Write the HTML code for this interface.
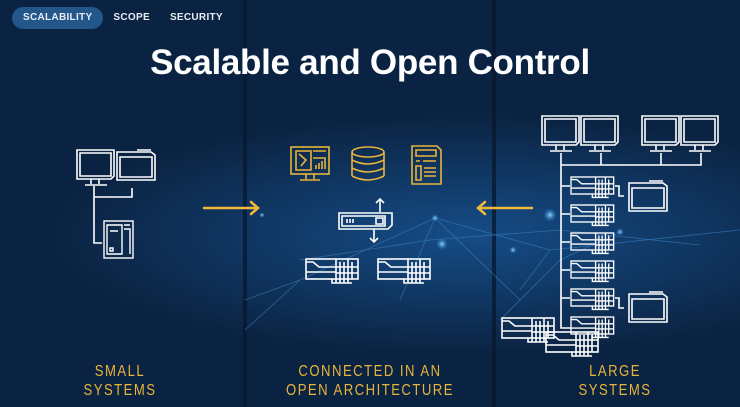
<!DOCTYPE html>
<html><head><meta charset="utf-8"><style>
html,body{margin:0;padding:0}
body{width:740px;height:407px;overflow:hidden;position:relative;font-family:"Liberation Sans",sans-serif;
background:radial-gradient(ellipse 420px 120px at 470px 235px,rgba(30,110,190,.55),rgba(11,35,66,0) 100%),#0b2342;}
.div{position:absolute;top:0;width:4px;height:407px;background:#08192f;opacity:.8}
.tabs{position:absolute;top:7px;left:12px;height:22px;display:flex;align-items:center;font-size:10px;font-weight:bold;color:#e6edf5;letter-spacing:.3px}
.tab{padding:0 10px;height:22px;line-height:22px}
.tab.on{background:#23578a;border-radius:11px;padding:0 11px}
h1{position:absolute;top:43px;left:0;width:740px;margin:0;text-align:center;color:#fff;font-size:35px;font-weight:bold;letter-spacing:-0.3px}
.lab{position:absolute;top:363px;text-align:center;color:#e8b43a;font-size:16px;line-height:18.5px;letter-spacing:1.8px;transform:scaleX(0.82)}
svg{position:absolute;left:0;top:0}
</style></head><body>
<div class="div" style="left:243px"></div>
<div class="div" style="left:492px"></div>
<svg width="740" height="407" viewBox="0 0 740 407">
<defs>
<g id="rack" fill="none" stroke="#fff" stroke-width="1.6">
<rect x="0" y="0" width="52" height="20"/>
<path d="M0 3 L7 3 L13 8 L30 8 M0 13 L30 13 M30 0 V24 M34 3 V24 M38 3 V24 M42 0 V24 M46 3 V20 M30 8 H52 M30 14 H52 M26 20 V24 H46"/>
</g>
<g id="mon" fill="none" stroke="#fff" stroke-width="1.6">
<path d="M0 0 H37 V26 L34 29 H0 Z M3 3 H34 V26 H3 Z M14 29 V34 M22 29 V34 M8 35 H30"/>
</g>
<g id="win" fill="none" stroke="#fff" stroke-width="1.6">
<path d="M0 2 H34 L38 5 V30 H0 Z M3 7 H35 V27 H3 Z M20 0 H34"/>
</g>
<radialGradient id="dot"><stop offset="0" stop-color="#8fd4ff"/><stop offset="1" stop-color="#1e6ec0" stop-opacity="0"/></radialGradient>
</defs>
<g stroke="#3d86c9" stroke-width="0.8" opacity="0.6" fill="none">
<path d="M245 300 L300 280 L435 218 L550 250 L740 230"/>
<path d="M435 218 L400 300 M435 218 L520 300 M300 280 L245 330 M550 250 L520 290 M620 232 L560 260 L500 320"/>
<path d="M300 260 L430 240 L560 230 L700 245"/>
</g>
<circle cx="435" cy="218" r="4" fill="url(#dot)"/>
<circle cx="550" cy="215" r="7" fill="url(#dot)"/>
<circle cx="620" cy="232" r="4" fill="url(#dot)"/>
<circle cx="513" cy="250" r="4" fill="url(#dot)"/>
<circle cx="442" cy="244" r="6" fill="url(#dot)"/>
<circle cx="262" cy="215" r="3" fill="url(#dot)"/>
<use href="#mon" x="77" y="150"/>
<use href="#win" x="117" y="150"/>
<path d="M94 186 V243 H102 M94 197 H132 V188" fill="none" stroke="#fff" stroke-width="1.6"/>
<g fill="none" stroke="#fff" stroke-width="1.4">
<rect x="104" y="221" width="29" height="37"/><path d="M107 225 H122 V254 H107 Z M124 225 H130 M124 229 H130 V254 M110 231 H118 M110 248 H113 V251 H110 Z"/>
</g>
<g stroke="#f0b83a" stroke-width="2.5" fill="none" stroke-linecap="round">
<path d="M204 208 H258 M251 202 L258 208 L251 214"/>
<path d="M532 208 H478 M485 202 L478 208 L485 214"/>
</g>
<g fill="none" stroke="#e8b43a" stroke-width="1.6">
<rect x="291" y="147" width="38" height="27"/><path d="M296 151 H311 V170 H296 Z M313 151 H326 M313 158 H326 M316 169 V165 M319 169 V163 M322 169 V161 M325 169 V159 M306 174 V179 M314 174 V179 M300 180 H320 M299 154 L306 160 L301 166"/>
<ellipse cx="368" cy="152" rx="16" ry="5"/><path d="M352 152 V176 M384 152 V176 M352 160 Q368 168 384 160 M352 168 Q368 176 384 168 M352 176 Q368 184 384 176"/>
<path d="M412 146 H437 L441 150 V184 H412 Z M416 150 H436 V156 H416 Z M416 161 H420 M423 161 H436 M416 166 H421 V180 H416 Z M424 168 H436 M424 172 H436 M424 176 H436"/>
</g>
<g fill="none" stroke="#fff" stroke-width="1.6">
<path d="M339 213 H392 V225 L388 229 H339 Z M342 216 H385 V226 H342 Z M347 219 V223 M350 219 V223 M353 219 V223 M376 218 H383 V224 H376 Z"/>
<path d="M380 212 V199 M376 203 L380 199 L384 203 M374 229 V242 M370 238 L374 242 L378 238"/>
</g>
<use href="#rack" x="306" y="259"/>
<use href="#rack" x="378" y="259"/>
<use href="#mon" x="542" y="116"/>
<use href="#mon" x="581" y="116"/>
<use href="#mon" x="642" y="116"/>
<use href="#mon" x="681" y="116"/>
<path d="M561 153 V328 H571 M561 165 H701 V153 M601 165 V153 M661 165 V153" fill="none" stroke="#fff" stroke-width="1.6"/>
<g fill="none" stroke="#fff" stroke-width="1.6"><path d="M561 186 H570 M561 214 H570 M561 242 H570 M561 270 H570 M561 298 H570"/></g>
<use href="#rack" transform="translate(571 177) scale(0.82 0.85)"/>
<use href="#rack" transform="translate(571 205) scale(0.82 0.85)"/>
<use href="#rack" transform="translate(571 233) scale(0.82 0.85)"/>
<use href="#rack" transform="translate(571 261) scale(0.82 0.85)"/>
<use href="#rack" transform="translate(571 289) scale(0.82 0.85)"/>
<use href="#rack" transform="translate(571 317) scale(0.82 0.85)"/>
<use href="#rack" x="502" y="318"/>
<use href="#rack" x="546" y="332"/>
<use href="#win" x="629" y="181"/>
<use href="#win" x="629" y="292"/>
<path d="M615 186 H619 V196 H624 M615 298 H619 V308 H624" fill="none" stroke="#fff" stroke-width="1.6"/>
</svg>
<div class="tabs"><div class="tab on">SCALABILITY</div><div class="tab">SCOPE</div><div class="tab">SECURITY</div></div>
<h1>Scalable and Open Control</h1>
<div class="lab" style="left:20px;width:200px">SMALL<br>SYSTEMS</div>
<div class="lab" style="left:240px;width:260px">CONNECTED IN AN<br>OPEN ARCHITECTURE</div>
<div class="lab" style="left:515px;width:200px">LARGE<br>SYSTEMS</div>
</body></html>
